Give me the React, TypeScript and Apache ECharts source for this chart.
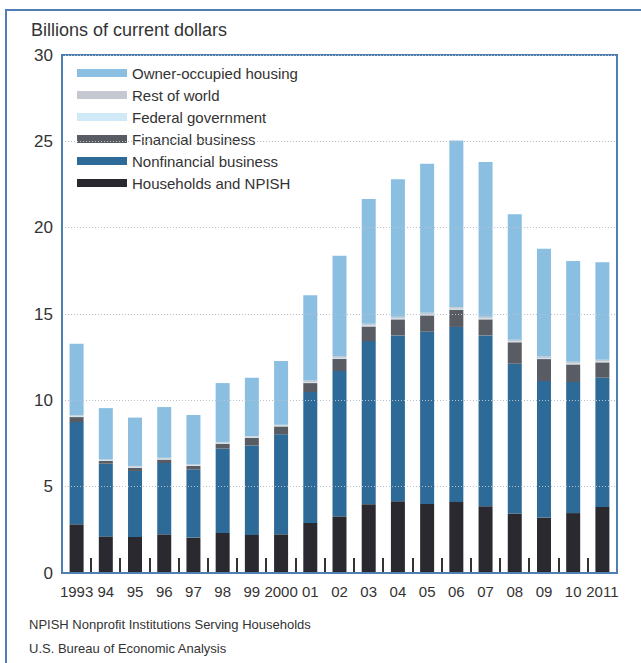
import React, { useEffect, useRef } from "react";
import * as echarts from "echarts";

const years = ["1993", "94", "95", "96", "97", "98", "99", "2000", "01", "02", "03", "04", "05", "06", "07", "08", "09", "10", "2011"];

const households = [2.82, 2.12, 2.09, 2.24, 2.05, 2.32, 2.2, 2.24, 2.9, 3.28, 3.98, 4.15, 4.0, 4.11, 3.86, 3.44, 3.21, 3.47, 3.82];
const nonfinancial = [5.92, 4.21, 3.82, 4.13, 3.94, 4.88, 5.19, 5.79, 7.58, 8.42, 9.45, 9.61, 9.98, 10.14, 9.9, 8.68, 7.91, 7.59, 7.49];
const financial = [0.29, 0.16, 0.19, 0.2, 0.21, 0.29, 0.45, 0.46, 0.52, 0.71, 0.85, 0.93, 0.94, 1.0, 0.93, 1.24, 1.27, 1.02, 0.89];
const federal = [0.05, 0.05, 0.05, 0.05, 0.05, 0.05, 0.05, 0.05, 0.05, 0.05, 0.05, 0.05, 0.05, 0.05, 0.05, 0.05, 0.05, 0.05, 0.05];
const restOfWorld = [0.05, 0.05, 0.05, 0.05, 0.05, 0.05, 0.05, 0.05, 0.1, 0.1, 0.1, 0.1, 0.1, 0.1, 0.1, 0.1, 0.1, 0.1, 0.1];
const ownerOccupied = [4.15, 2.96, 2.8, 2.94, 2.85, 3.41, 3.37, 3.69, 4.93, 5.82, 7.23, 7.97, 8.63, 9.65, 8.96, 7.26, 6.24, 5.84, 5.64];

const yTicks = [0, 5, 10, 15, 20, 25, 30];

const titleText = "Billions of current dollars";
const note1 = "NPISH Nonprofit Institutions Serving Households";
const note2 = "U.S. Bureau of Economic Analysis";

const seriesDefs = [
  { name: "Households and NPISH", data: households, color: "#2a292f" },
  { name: "Nonfinancial business", data: nonfinancial, color: "#2d6a98" },
  { name: "Financial business", data: financial, color: "#5a5c63" },
  { name: "Federal government", data: federal, color: "#cfe9f6" },
  { name: "Rest of world", data: restOfWorld, color: "#c5c8d0" },
  { name: "Owner-occupied housing", data: ownerOccupied, color: "#8bbfe2" },
];

const legendOrder = [
  "Owner-occupied housing",
  "Rest of world",
  "Federal government",
  "Financial business",
  "Nonfinancial business",
  "Households and NPISH",
];

const BLUE = "#4d7fb3";
const TEXT = "#333333";
const TICK = "#333333";
const FONT = "Liberation Sans, Arial, Helvetica, sans-serif";

export default function App() {
  const ref = useRef<HTMLDivElement>(null);
  useEffect(() => {
    document.body.style.margin = "0";
    if (!ref.current) return;
    const chart = echarts.init(ref.current, null, { renderer: "svg" });
    const tickSeries = {
      name: "ticks",
      type: "custom",
      silent: true,
      z: 10,
      clip: false,
      data: years.map((_, i) => [i, 0]),
      encode: { x: 0, y: 1 },
      renderItem: (params: any, api: any) => {
        const idx = params.dataIndex;
        const pt = api.coord([idx, 0]);
        const w = api.size([1, 0])[0];
        const x = Math.round(pt[0] - w / 2);
        return {
          type: "rect",
          shape: { x: x - 1, y: pt[1] - 15, width: 2, height: 14 },
          style: { fill: TICK },
        };
      },
    };
    chart.setOption({
      animation: false,
      backgroundColor: "#ffffff",
      textStyle: { fontFamily: FONT },
      grid: {
        left: 62,
        right: 24,
        top: 55,
        bottom: 90,
        show: true,
        borderColor: BLUE,
        borderWidth: 2,
        containLabel: false,
      },
      legend: {
        data: legendOrder,
        orient: "vertical",
        left: 72,
        top: 60,
        itemWidth: 50,
        itemHeight: 8,
        itemGap: 6,
        icon: "rect",
        selectedMode: false,
        textStyle: { fontSize: 15, lineHeight: 16, color: TEXT, fontFamily: FONT },
      },
      xAxis: {
        type: "category",
        data: years,
        boundaryGap: true,
        z: 12,
        axisLine: { show: true, lineStyle: { color: BLUE, width: 2 } },
        axisTick: { show: false },
        axisLabel: { color: TEXT, fontSize: 15, margin: 11, interval: 0, fontFamily: FONT },
        splitLine: { show: false },
      },
      yAxis: {
        type: "value",
        min: yTicks[0],
        max: yTicks[yTicks.length - 1],
        interval: 5,
        z: 12,
        axisLine: { show: true, lineStyle: { color: BLUE, width: 2 } },
        axisTick: { show: false },
        axisLabel: { color: TEXT, fontSize: 17, margin: 9, fontFamily: FONT },
        splitLine: { show: true, lineStyle: { color: "#b9c2cc", type: [1, 2], width: 1 } },
      },
      series: [
        ...seriesDefs.map((s) => ({
          name: s.name,
          type: "bar",
          stack: "total",
          data: s.data,
          barWidth: 14,
          itemStyle: { color: s.color },
          emphasis: { disabled: true },
        })),
        tickSeries,
      ],
      graphic: [
        {
          type: "rect",
          shape: { x: 6, y: 10, width: 700, height: 700 },
          style: { fill: "none", stroke: BLUE, lineWidth: 2 },
          silent: true,
        },
        {
          type: "text",
          x: 31,
          y: 30,
          style: { text: titleText, fontSize: 18, fontFamily: FONT, fill: TEXT, verticalAlign: "middle" },
        },
        {
          type: "text",
          x: 29,
          y: 624,
          style: { text: note1, fontSize: 13, fontFamily: FONT, fill: TEXT, verticalAlign: "middle" },
        },
        {
          type: "text",
          x: 29,
          y: 648,
          style: { text: note2, fontSize: 13, fontFamily: FONT, fill: TEXT, verticalAlign: "middle" },
        },
      ],
    });
    return () => chart.dispose();
  }, []);
  return <div ref={ref} style={{ width: 641, height: 663, position: "absolute", left: 0, top: 0 }} />;
}
